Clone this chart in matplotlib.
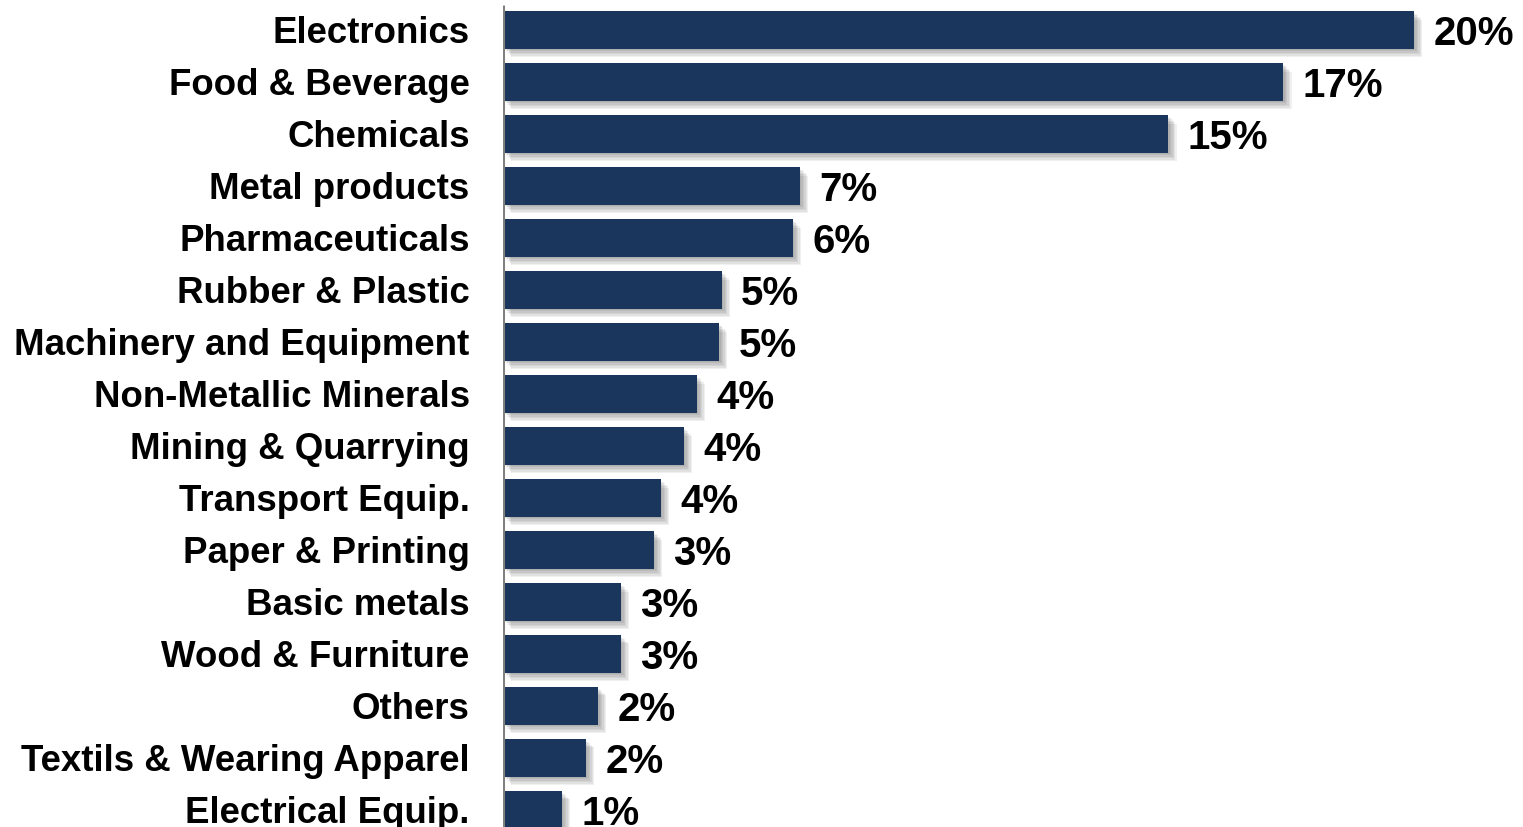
import matplotlib.pyplot as plt
import matplotlib.patheffects as pe

plt.rcParams["font.family"] = ["Liberation Sans", "DejaVu Sans"]

CATEGORIES = [
    "Electronics", "Food & Beverage", "Chemicals", "Metal products",
    "Pharmaceuticals", "Rubber & Plastic", "Machinery and Equipment",
    "Non-Metallic Minerals", "Mining & Quarrying", "Transport Equip.",
    "Paper & Printing", "Basic metals", "Wood & Furniture", "Others",
    "Textils & Wearing Apparel", "Electrical Equip.",
]
SHARES = [20.4, 17.47, 14.9, 6.65, 6.49, 4.9, 4.84, 4.34, 4.05, 3.54,
          3.38, 2.64, 2.64, 2.13, 1.86, 1.32]
LABELS = ["20%", "17%", "15%", "7%", "6%", "5%", "5%", "4%", "4%", "4%",
          "3%", "3%", "3%", "2%", "2%", "1%"]

BAR_COLOR = "#1a365d"


def main() -> None:
    fig = plt.figure(figsize=(15.23, 8.27), dpi=100)
    ax = fig.add_axes([503 / 1523, 0, 1 - 503 / 1523, 1])

    y = list(range(len(CATEGORIES)))
    # soft drop shadow, built from a few stacked translucent offsets
    shadow = [
        pe.SimplePatchShadow(offset=(o, -o), shadow_rgbFace="#000000", alpha=0.06)
        for o in (1, 2, 3, 4, 5, 6)
    ]
    bars = ax.barh(y, SHARES, height=0.72, color=BAR_COLOR, zorder=3)
    for b in bars:
        b.set_path_effects(shadow + [pe.Normal()])

    for yi, v, lab in zip(y, SHARES, LABELS):
        ax.annotate(lab, (v, yi), xytext=(14, -3), textcoords="offset points",
                    ha="left", va="center", fontsize=29, fontweight="bold",
                    color="black")

    ax.set_xlim(0, 1020 / 44.66)
    ax.set_ylim(15.33, -0.577)
    ax.set_yticks(y)
    ax.set_yticklabels(CATEGORIES, fontsize=26.4, fontweight="bold")
    ax.tick_params(axis="y", length=0, pad=24)
    ax.set_xticks([])
    for s in ax.spines.values():
        s.set_visible(False)
    ax.vlines(0, -0.48, 15.33, color="#808080", linewidth=2.2, zorder=4)

    fig.savefig("out.png", dpi=100)


if __name__ == "__main__":
    main()
